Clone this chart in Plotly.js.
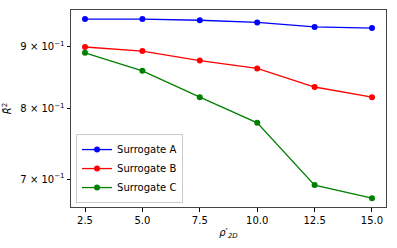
<!DOCTYPE html>
<html><head><meta charset="utf-8">
<script src="https://cdn.plot.ly/plotly-3.0.1.min.js"></script>
<style>html,body{margin:0;padding:0;background:#fff}#chart{width:397px;height:248px}</style>
</head><body><div id="chart"></div>
<script>
const rho = [2.5, 5.0, 7.5, 10.0, 12.5, 15.0];
const surrogateA = [0.949, 0.949, 0.947, 0.943, 0.935, 0.933];
const surrogateB = [0.900, 0.893, 0.877, 0.864, 0.834, 0.818];
const surrogateC = [0.890, 0.860, 0.818, 0.779, 0.692, 0.675];
const yTickVals = [0.7, 0.8, 0.9];
const yTickText = ['7 × 10<sup>−1</sup>', '8 × 10<sup>−1</sup>', '9 × 10<sup>−1</sup>'];
const xTickVals = [2.5, 5.0, 7.5, 10.0, 12.5, 15.0];
const xTickText = ['2.5', '5.0', '7.5', '10.0', '12.5', '15.0'];

function tr(y, name, color) {
  return {x: rho, y: y, name: name, type: 'scatter', mode: 'lines+markers',
    line: {color: color, width: 1.3}, marker: {color: color, size: 6}};
}
const data = [tr(surrogateA, 'Surrogate A', '#0000ff'), tr(surrogateB, 'Surrogate B', '#ff0000'), tr(surrogateC, 'Surrogate C', '#008000')];
const axisCommon = {showline: true, mirror: true, linecolor: '#444', linewidth: 1, ticks: 'outside', ticklen: 3.5, tickcolor: '#000', showgrid: false, zeroline: false, tickfont: {size: 10, color: '#000'}};
const layout = {
  width: 397, height: 248,
  margin: {l: 71, r: 11, t: 10, b: 41},
  paper_bgcolor: '#fff', plot_bgcolor: '#fff',
  font: {family: 'DejaVu Sans', size: 10, color: '#000'},
  showlegend: true,
  legend: {x: 0.016, y: 0.02, xanchor: 'left', yanchor: 'bottom', bgcolor: 'rgba(255,255,255,0.9)', bordercolor: '#ccc', borderwidth: 1, font: {size: 10}, tracegroupgap: 0, itemwidth: 30},
  xaxis: Object.assign({}, axisCommon, {range: [1.89, 15.61], tickvals: xTickVals, ticktext: xTickText,
    title: {text: '<i>ρ</i>′<sub><i>2D</i></sub>', font: {size: 10}, standoff: 4}}),
  yaxis: Object.assign({}, axisCommon, {type: 'log', range: [-0.178, -0.0152], tickvals: yTickVals, ticktext: yTickText,
    title: {text: '<i>R̄</i><sup>2</sup>', font: {size: 10}, standoff: 6}})
};
Plotly.newPlot('chart', data, layout, {displayModeBar: false, staticPlot: true});
</script></body></html>
